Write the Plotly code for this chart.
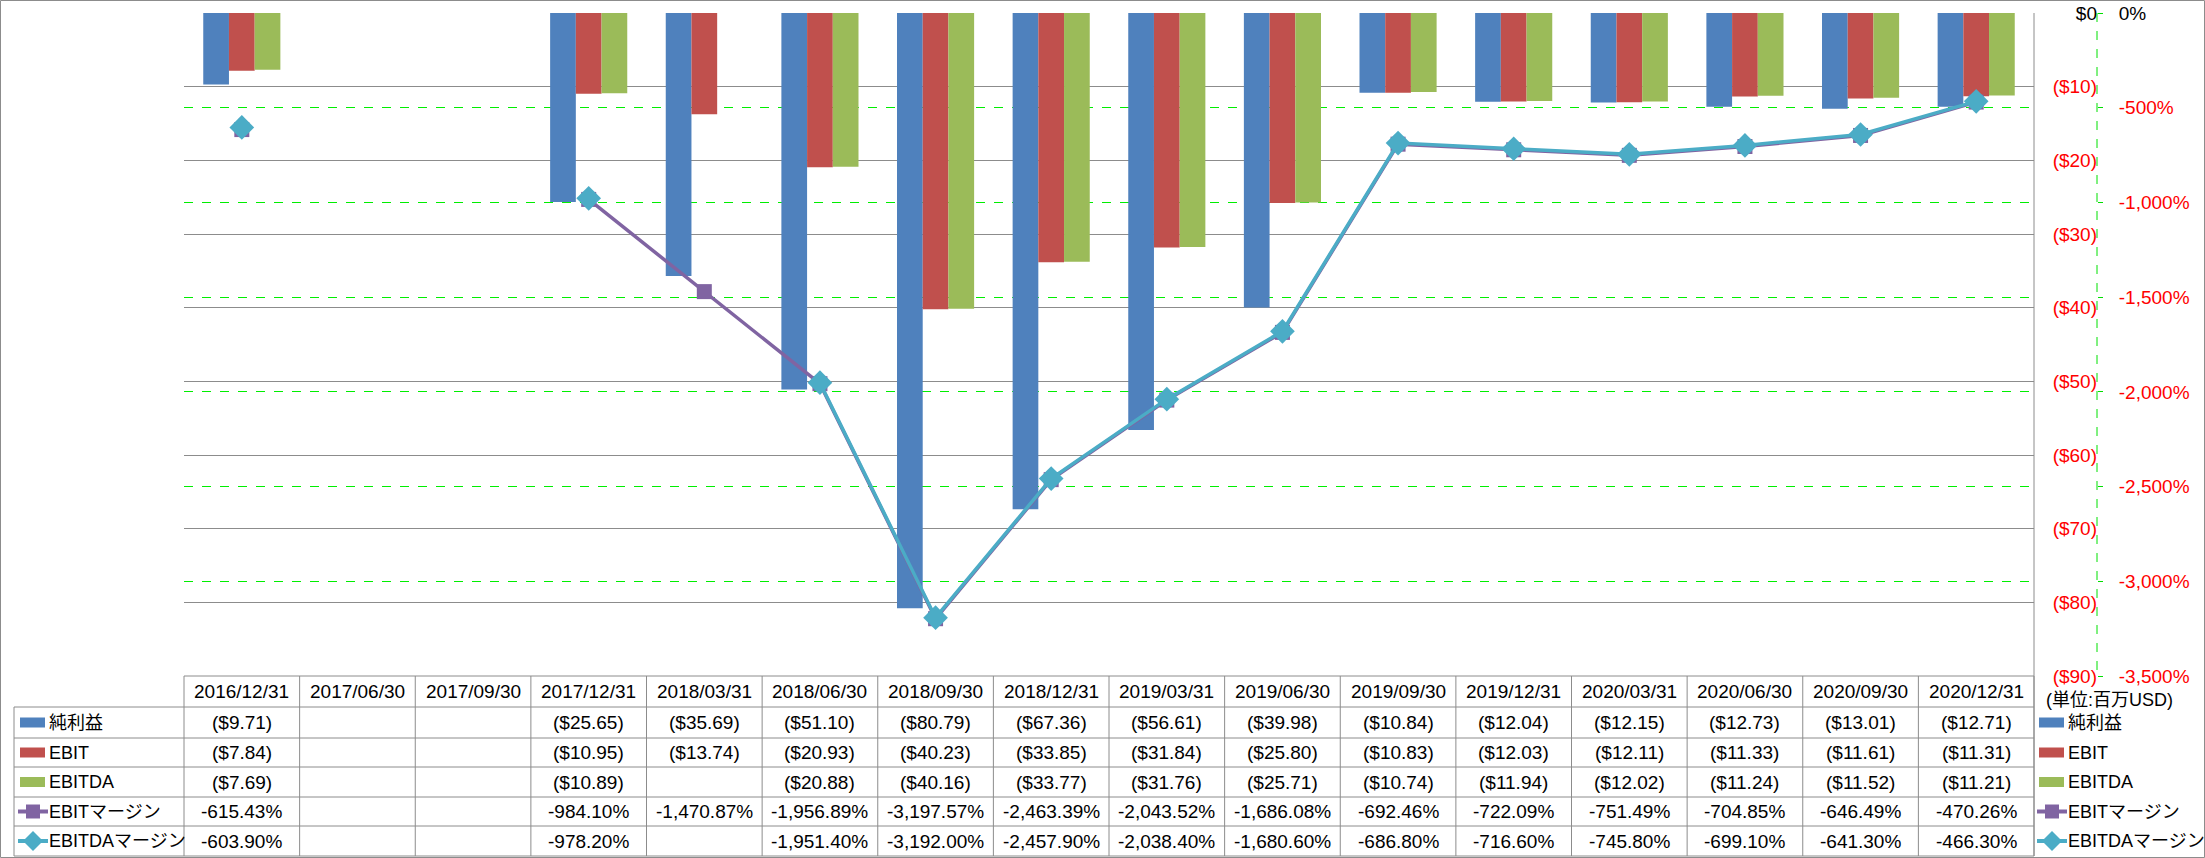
import plotly.graph_objects as go

# ---------------- data ----------------
dates = ['2016/12/31', '2017/06/30', '2017/09/30', '2017/12/31', '2018/03/31', '2018/06/30',
         '2018/09/30', '2018/12/31', '2019/03/31', '2019/06/30', '2019/09/30', '2019/12/31',
         '2020/03/31', '2020/06/30', '2020/09/30', '2020/12/31']
net_income = [-9.71, None, None, -25.65, -35.69, -51.10, -80.79, -67.36, -56.61, -39.98,
              -10.84, -12.04, -12.15, -12.73, -13.01, -12.71]
ebit = [-7.84, None, None, -10.95, -13.74, -20.93, -40.23, -33.85, -31.84, -25.80,
        -10.83, -12.03, -12.11, -11.33, -11.61, -11.31]
ebitda = [-7.69, None, None, -10.89, None, -20.88, -40.16, -33.77, -31.76, -25.71,
          -10.74, -11.94, -12.02, -11.24, -11.52, -11.21]
ebit_margin = [-615.43, None, None, -984.10, -1470.87, -1956.89, -3197.57, -2463.39, -2043.52,
               -1686.08, -692.46, -722.09, -751.49, -704.85, -646.49, -470.26]
ebitda_margin = [-603.90, None, None, -978.20, None, -1951.40, -3192.00, -2457.90, -2038.40,
                 -1680.60, -686.80, -716.60, -745.80, -699.10, -641.30, -466.30]

series_names = ['純利益', 'EBIT', 'EBITDA', 'EBITマージン', 'EBITDAマージン']
usd_ticks = [0, -10, -20, -30, -40, -50, -60, -70, -80, -90]
usd_ticktext = ['$0', '($10)', '($20)', '($30)', '($40)', '($50)', '($60)', '($70)', '($80)', '($90)']
pct_ticks = [0, -500, -1000, -1500, -2000, -2500, -3000, -3500]
pct_ticktext = ['0%', '-500%', '-1,000%', '-1,500%', '-2,000%', '-2,500%', '-3,000%', '-3,500%']
unit_label = '(単位:百万USD)'

# ---------------- style ----------------
W, H = 2205, 858
C_BLUE, C_RED, C_GREEN, C_PURPLE, C_CYAN = '#4F81BD', '#C0504D', '#9BBB59', '#8064A2', '#4BACC6'
GRID = '#8C8C8C'
NEG = '#FF0000'
FONT = 'Liberation Sans Narrow, Liberation Sans, Noto Sans CJK JP, sans-serif'
FS = 19
FS_LEG = 18

PL, PR, PT, PB = 184, 2034, 13, 676          # plot area (pixels)
ROWS = [676, 707, 738, 767, 797, 826, 856]    # table row boundaries
LX0 = 14                                      # label column left


def X(p):
    return p / W


def Y(p):
    return 1 - p / H


def red(t):
    return f"<span style='color:{NEG}'>{t}</span>"


fig = go.Figure()
bar_colors = [C_BLUE, C_RED, C_GREEN]
for name, vals, col in zip(series_names[:3], [net_income, ebit, ebitda], bar_colors):
    fig.add_trace(go.Bar(x=dates, y=vals, name=name, marker=dict(color=col, line=dict(width=0)),
                         yaxis='y'))

fig.add_trace(go.Scatter(x=dates, y=ebit_margin, name=series_names[3], yaxis='y2', mode='lines+markers',
                         line=dict(color=C_PURPLE, width=3.5),
                         marker=dict(symbol='square', size=15, color=C_PURPLE), connectgaps=False))
fig.add_trace(go.Scatter(x=dates, y=ebitda_margin, name=series_names[4], yaxis='y2', mode='lines+markers',
                         line=dict(color=C_CYAN, width=3.5),
                         marker=dict(symbol='diamond', size=19, color=C_CYAN), connectgaps=False))

shapes = []
annotations = []


def hline(y, x0, x1, color=GRID, width=1, dash='solid'):
    shapes.append(dict(type='line', xref='paper', yref='paper', x0=X(x0), x1=X(x1), y0=Y(y), y1=Y(y),
                       line=dict(color=color, width=width, dash=dash), layer='above'))


def vline(x, y0, y1, color=GRID, width=1, dash='solid'):
    shapes.append(dict(type='line', xref='paper', yref='paper', x0=X(x), x1=X(x), y0=Y(y0), y1=Y(y1),
                       line=dict(color=color, width=width, dash=dash), layer='above'))


# outer border
shapes.append(dict(type='rect', xref='paper', yref='paper', x0=X(0.5), x1=X(W - 0.5), y0=Y(0.5), y1=Y(H - 0.5),
                   line=dict(color=GRID, width=1), layer='above'))
# right plot border
vline(PR, PT, ROWS[-1])
# green dashed axis line
vline(2097, PT, PB, color='#00E000', width=1, dash='dash')

# table grid
hline(ROWS[0], PL, PR)
for r in ROWS[1:]:
    hline(r, LX0, PR)
vline(LX0, ROWS[1], ROWS[-1])
ncat = len(dates)
cw = (PR - PL) / ncat
for i in range(ncat + 1):
    vline(PL + i * cw, ROWS[0], ROWS[-1])


def fmt_usd(v):
    return '' if v is None else f'(${abs(v):.2f})'


def fmt_pct(v):
    return '' if v is None else f'{v:,.2f}%'


row_vals = [[fmt_usd(v) for v in net_income], [fmt_usd(v) for v in ebit], [fmt_usd(v) for v in ebitda],
            [fmt_pct(v) for v in ebit_margin], [fmt_pct(v) for v in ebitda_margin]]

# header
for d in dates:
    annotations.append(dict(x=d, xref='x', y=Y((ROWS[0] + ROWS[1]) / 2), yref='paper', text=d,
                            showarrow=False, font=dict(size=FS, color='#000', family=FONT),
                            xanchor='center', yanchor='middle'))
for ri, vals in enumerate(row_vals):
    yc = (ROWS[ri + 1] + ROWS[ri + 2]) / 2
    for d, t in zip(dates, vals):
        if t:
            annotations.append(dict(x=d, xref='x', y=Y(yc), yref='paper', text=t, showarrow=False,
                                    font=dict(size=FS, color='#000', family=FONT),
                                    xanchor='center', yanchor='middle'))


def legend_key(x0, yc, idx):
    colors = [C_BLUE, C_RED, C_GREEN, C_PURPLE, C_CYAN]
    if idx < 3:
        shapes.append(dict(type='rect', xref='paper', yref='paper', x0=X(x0), x1=X(x0 + 25),
                           y0=Y(yc - 5), y1=Y(yc + 5), fillcolor=colors[idx], line=dict(width=0),
                           layer='above'))
    else:
        shapes.append(dict(type='line', xref='paper', yref='paper', x0=X(x0 - 2), x1=X(x0 + 28),
                           y0=Y(yc), y1=Y(yc), line=dict(color=colors[idx], width=4), layer='above'))
        cx = x0 + 13
        if idx == 3:
            a = 7
            shapes.append(dict(type='rect', xref='paper', yref='paper', x0=X(cx - a), x1=X(cx + a),
                               y0=Y(yc - a), y1=Y(yc + a), fillcolor=colors[idx],
                               line=dict(width=0), layer='above'))
        else:
            a = 10
            path = f'M {X(cx)},{Y(yc - a)} L {X(cx + a)},{Y(yc)} L {X(cx)},{Y(yc + a)} L {X(cx - a)},{Y(yc)} Z'
            shapes.append(dict(type='path', xref='paper', yref='paper', path=path, fillcolor=colors[idx],
                               line=dict(width=0), layer='above'))


for ri, name in enumerate(series_names):
    yc = (ROWS[ri + 1] + ROWS[ri + 2]) / 2
    legend_key(20, yc, ri)
    annotations.append(dict(x=X(47), xref='paper', y=Y(yc), yref='paper', text=name, showarrow=False,
                            font=dict(size=FS_LEG, color='#000', family=FONT), xanchor='left', yanchor='middle'))
    legend_key(2039, yc, ri)
    annotations.append(dict(x=X(2066), xref='paper', y=Y(yc), yref='paper', text=name, showarrow=False,
                            font=dict(size=FS_LEG, color='#000', family=FONT), xanchor='left', yanchor='middle'))

annotations.append(dict(x=X(2044), xref='paper', y=Y(700), yref='paper', text=unit_label, showarrow=False,
                        font=dict(size=18, color='#000', family=FONT), xanchor='left', yanchor='middle'))

fig.update_layout(
    width=W, height=H,
    margin=dict(l=0, r=0, t=0, b=0, pad=0, autoexpand=False),
    paper_bgcolor='white', plot_bgcolor='white',
    showlegend=False,
    barmode='group', bargap=0.333, bargroupgap=0,
    font=dict(family=FONT, size=FS, color='#000'),
    xaxis=dict(domain=[X(PL), X(PR)], type='category', categoryorder='array', categoryarray=dates,
               range=[-0.5, len(dates) - 0.5], automargin=False,
               showticklabels=False, showgrid=False, zeroline=False, showline=False, ticks=''),
    yaxis=dict(domain=[Y(PB), Y(PT)], range=[-90, 0], anchor='free', position=X(2097), side='left',
               automargin=False, tickvals=usd_ticks,
               ticktext=[t if v == 0 else red(t) for v, t in zip(usd_ticks, usd_ticktext)],
               showgrid=True, gridcolor=GRID, gridwidth=1, zeroline=False, showline=False, ticks='',
               tickfont=dict(size=FS, family=FONT, color='#000')),
    yaxis2=dict(domain=[Y(PB), Y(PT)], range=[-3500, 0], overlaying='y', anchor='free', position=X(2097),
                side='right', automargin=False, tickvals=pct_ticks,
                ticktext=[t if v == 0 else red(t) for v, t in zip(pct_ticks, pct_ticktext)],
                showgrid=True, gridcolor='#00EE00', griddash='dash', gridwidth=1, zeroline=False,
                showline=False, ticks='outside', ticklen=5, tickcolor='#00E000', ticklabelstandoff=12,
                tickfont=dict(size=FS, family=FONT, color='#000')),
    shapes=shapes, annotations=annotations,
)

fig.write_html('out.html')
